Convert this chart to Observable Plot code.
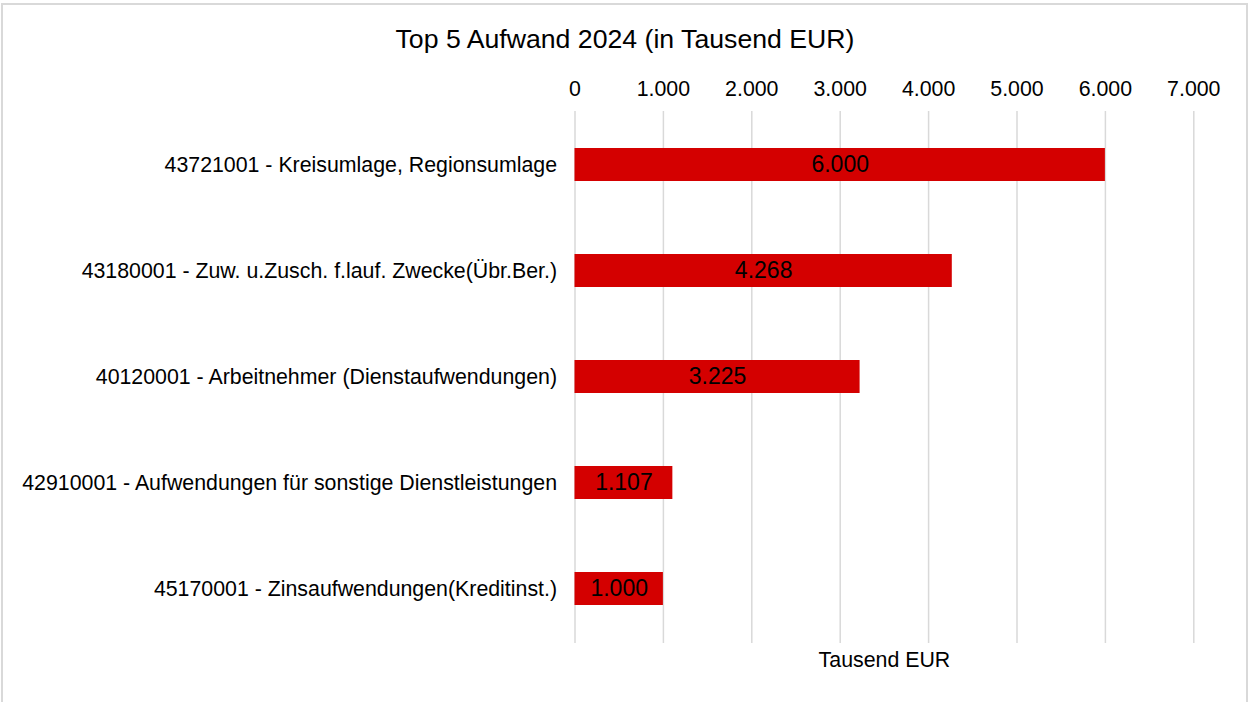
<!DOCTYPE html>
<html>
<head>
<meta charset="utf-8">
<script src="https://cdn.jsdelivr.net/npm/d3@7"></script>
<script src="https://cdn.jsdelivr.net/npm/@observablehq/plot@0.6"></script>
<style>
  html, body { margin: 0; padding: 0; background: #fff; }
  #wrap { position: relative; width: 1250px; height: 702px; overflow: hidden; font-family: "Liberation Sans", Arial, sans-serif; }
  #border { position: absolute; left: 1px; top: 3px; width: 1247px; height: 720px; border: 2px solid #d9d9d9; box-sizing: border-box; pointer-events: none; }
  #title { position: absolute; left: 0; top: 0; width: 1250px; padding-top: 25.5px; font-size: 26.67px; line-height: 26.67px; text-align: center; color: #000; }
  #chart { position: absolute; left: 0; top: 66px; }
  svg { display: block; }
</style>
</head>
<body>
<div id="wrap">
  <div id="chart"></div>
  <div id="title">Top 5 Aufwand 2024 (in Tausend EUR)</div>
  <div id="border"></div>
</div>
<script>
const categories = [
  "43721001 - Kreisumlage, Regionsumlage",
  "43180001 - Zuw. u.Zusch. f.lauf. Zwecke(Übr.Ber.)",
  "40120001 - Arbeitnehmer (Dienstaufwendungen)",
  "42910001 - Aufwendungen für sonstige Dienstleistungen",
  "45170001 - Zinsaufwendungen(Kreditinst.)"
];
const values = [6000, 4268, 3225, 1107, 1000];
const xTicks = [0, 1000, 2000, 3000, 4000, 5000, 6000, 7000];
const xLabel = "Tausend EUR";

const de = d3.formatLocale({decimal: ",", thousands: ".", grouping: [3], currency: ["", " €"]});
const fmt = de.format(",d");

const data = categories.map((c, i) => ({category: c, value: values[i]}));

const chart = Plot.plot({
  width: 1250,
  height: 636,
  marginLeft: 574.5,
  marginRight: 56.7,
  marginTop: 45,
  marginBottom: 59,
  style: {fontFamily: "'Liberation Sans', Arial, sans-serif", color: "#000", background: "#fff"},
  x: {domain: [0, 7000], axis: null},
  y: {domain: categories, axis: null, paddingInner: 0.685, paddingOuter: 0.3425},
  marks: [
    Plot.ruleX(xTicks, {stroke: "#d9d9d9", strokeWidth: 1.5, strokeOpacity: 1}),
    Plot.axisX({anchor: "top", ticks: xTicks, tickSize: 0, tickPadding: 16, tickFormat: fmt, fontSize: 21.33, label: null, fill: "#000"}),
    Plot.axisY({anchor: "left", tickSize: 0, tickPadding: 18, fontSize: 21.33, label: null, fill: "#000", tickFormat: d => d}),
    Plot.barX(data, {x: "value", y: "category", fill: "#d40000"}),
    Plot.text(data, {x: d => d.value / 2, y: "category", text: d => fmt(d.value), fontSize: 23, fill: "#000", textAnchor: "middle"}),
    Plot.text([xLabel], {frameAnchor: "bottom", dy: 17, text: d => d, fontSize: 21.33, fill: "#000", lineAnchor: "middle"})
  ]
});
document.getElementById("chart").appendChild(chart);
</script>
</body>
</html>
